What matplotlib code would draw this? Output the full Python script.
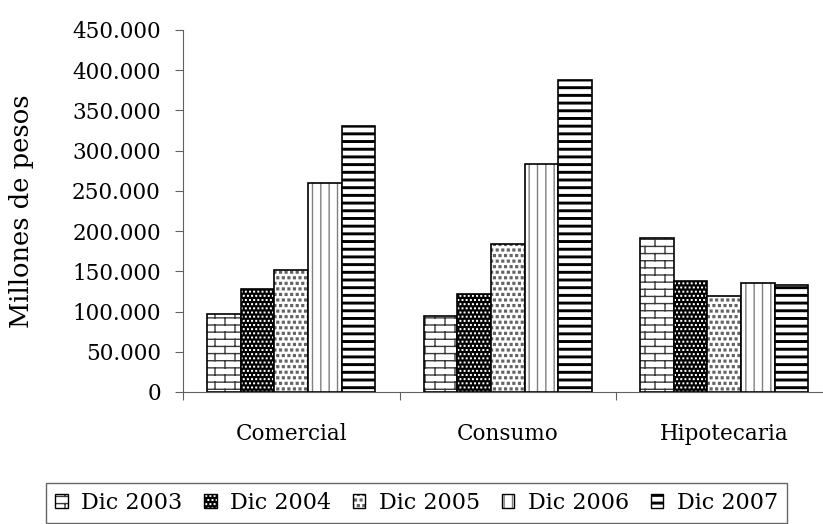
import warnings
import numpy as np
import matplotlib
matplotlib.use("Agg")
import matplotlib.pyplot as plt
import matplotlib.hatch as mhatch
from matplotlib.path import Path
from matplotlib.patches import Patch

warnings.filterwarnings("ignore")

categories = ["Comercial", "Consumo", "Hipotecaria"]
series = ["Dic 2003", "Dic 2004", "Dic 2005", "Dic 2006", "Dic 2007"]
dic2003 = [97000, 94500, 192000]
dic2004 = [127500, 122000, 138000]
dic2005 = [151500, 184500, 119000]
dic2006 = [260000, 284000, 135000]
dic2007 = [330500, 387500, 133000]
values = [dic2003, dic2004, dic2005, dic2006, dic2007]
yticks = list(range(0, 450001, 50000))


# ---- custom hatch patterns (brick, square dots, thick bands) ----
class Bricks(mhatch.HatchPatternBase):
    def __init__(self, hatch, density):
        self.rows = 14 if "b" in hatch else 0
        self.cols = 5
        if self.rows:
            self.num_vertices = 2 * self.rows + 2 * (self.rows - 1) * self.cols + 4 * self.cols
        else:
            self.num_vertices = 0

    def set_vertices_and_codes(self, vertices, codes):
        r, c = self.rows, self.cols
        verts = []
        for i in range(r):
            y = (i + 0.5) / r
            verts += [(0, y), (1, y)]
        for i in range(r):
            y0 = (i + 0.5) / r
            y1 = (i + 1.5) / r
            for j in range(c):
                x = (j + 0.25 + 0.5 * (i % 2)) / c
                if i < r - 1:
                    verts += [(x, y0), (x, y1)]
                else:
                    verts += [(x, y0), (x, 1.0), (x, 0.0), (x, 0.5 / r)]
        vertices[:] = np.array(verts)
        codes[0::2] = Path.MOVETO
        codes[1::2] = Path.LINETO


class SquareDots(mhatch.Shapes):
    filled = True
    size = 0.16
    char = "s"
    shape_vertices = np.array([[-1, -1], [1, -1], [1, 1], [-1, 1], [-1, -1]], float)
    shape_codes = np.array([Path.MOVETO, Path.LINETO, Path.LINETO,
                            Path.LINETO, Path.CLOSEPOLY], dtype=Path.code_type)

    def __init__(self, hatch, density):
        self.num_rows = hatch.count(self.char) * density
        super().__init__(hatch, density)


class SmallSquareDots(SquareDots):
    size = 0.07
    char = "w"


class Bands(mhatch.HatchPatternBase):
    def __init__(self, hatch, density):
        self.rows = 13 if "h" in hatch else 0
        self.num_vertices = 5 * self.rows

    def set_vertices_and_codes(self, vertices, codes):
        t = 0.2 / self.rows
        for i in range(self.rows):
            y = (i + 0.5) / self.rows
            vertices[5 * i:5 * i + 5] = [[0, y], [1, y], [1, y + t], [0, y + t], [0, y]]
            codes[5 * i:5 * i + 5] = [Path.MOVETO, Path.LINETO, Path.LINETO,
                                      Path.LINETO, Path.CLOSEPOLY]


mhatch._hatch_types += [Bricks, SquareDots, SmallSquareDots, Bands]

plt.rcParams["font.family"] = ["DejaVu Serif"]
plt.rcParams["hatch.linewidth"] = 1.0

faces = ["white", "black", "white", "white", "white"]
hatch_colors = ["#3a3a3a", "white", "#646464", "#808080", "black"]
hatches = ["b", "wwww", "sss", "||", "h"]

fig = plt.figure(figsize=(8.23, 5.24), dpi=100)
ax = fig.add_axes([183 / 823, 132 / 524, 649.5 / 823, 362 / 524])

x = np.arange(len(categories))
w = 0.155
handles = []
for i, vals in enumerate(values):
    pos = x + (i - 2) * w
    ax.bar(pos, vals, w, color=faces[i], edgecolor=hatch_colors[i],
           hatch=hatches[i], linewidth=0)
    ax.bar(pos, vals, w, fill=False, edgecolor="black", linewidth=1.2)
    handles.append((Patch(facecolor=faces[i], edgecolor=hatch_colors[i],
                          hatch=hatches[i], linewidth=0),
                    Patch(fill=False, edgecolor="black", linewidth=1.0)))

ax.set_xlim(-0.5, 2.5)
ax.set_ylim(0, 450000)
ax.set_yticks(yticks)
ax.set_yticklabels([f"{v:,.0f}".replace(",", ".") for v in yticks])
ax.set_xticks([-0.5, 0.5, 1.5, 2.5])
ax.set_xticklabels([])
ax.set_xticks(x, minor=True)
ax.set_xticklabels(categories, minor=True)
ax.tick_params(axis="x", which="minor", length=0, pad=22, labelsize=15.5)
ax.tick_params(axis="x", which="major", length=6, color="#606060")
ax.tick_params(axis="y", length=6, color="#606060", pad=10, labelsize=15.5)
for s in ["top", "right"]:
    ax.spines[s].set_visible(False)
for s in ["left", "bottom"]:
    ax.spines[s].set_color("#606060")

ax.set_ylabel("Millones de pesos", fontsize=18.5)
ax.yaxis.set_label_coords((34 - 183) / 649.5, 0.5)

leg = fig.legend(handles, series, loc="upper center", ncol=5,
                 bbox_to_anchor=(416.5 / 823, 1 - 483 / 524),
                 fontsize=16, frameon=True, fancybox=False,
                 handlelength=0.55, handleheight=0.55, handletextpad=0.6,
                 columnspacing=1.0, borderpad=0.4, borderaxespad=0)
leg.get_frame().set_edgecolor("#404040")
leg.get_frame().set_linewidth(1.0)

fig.savefig("out.png", dpi=100)
